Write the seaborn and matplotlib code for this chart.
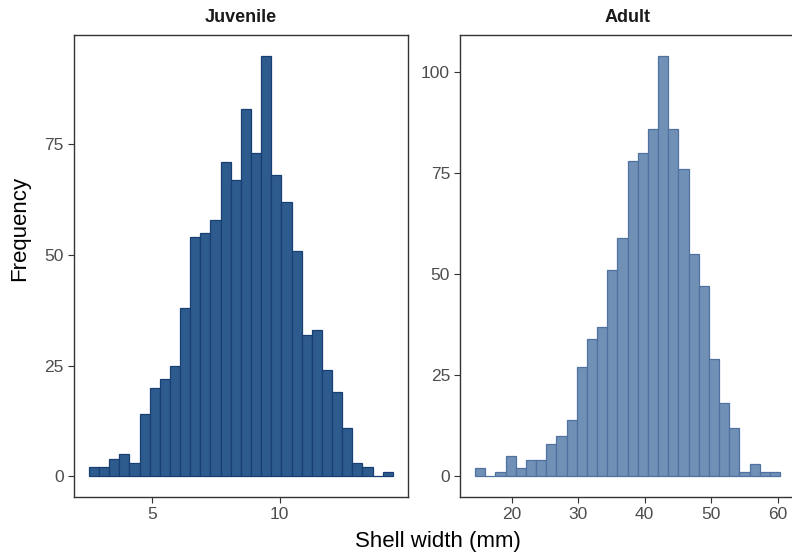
import pandas as pd
import matplotlib
matplotlib.use("Agg")
import matplotlib.pyplot as plt
import seaborn as sns

# bin ranges (mm) and counts, 30 bins per panel
juvenile_range = (2.52, 14.43)
juvenile_counts = [2, 2, 4, 5, 3, 14, 20, 22, 25, 38,
                   54, 55, 58, 71, 67, 83, 73, 95, 68, 62,
                   51, 32, 33, 24, 19, 11, 3, 2, 0, 1]
adult_range = (14.48, 60.35)
adult_counts = [2, 0, 1, 5, 2, 4, 4, 8, 10, 14,
                27, 34, 37, 51, 59, 78, 80, 86, 104, 86,
                76, 55, 47, 29, 18, 12, 1, 3, 1, 1]

juvenile_xticks = [5, 10]
juvenile_yticks = [0, 25, 50, 75]
adult_xticks = [20, 30, 40, 50, 60]
adult_yticks = [0, 25, 50, 75, 100]

sns.set_theme(style="white")
plt.rcParams['font.family'] = ['Liberation Sans', 'DejaVu Sans']


def make_frame(rng, counts):
    n = len(counts)
    w = (rng[1] - rng[0]) / n
    centers = [rng[0] + w * (i + 0.5) for i in range(n)]
    return pd.DataFrame({'width': centers, 'n': counts})


def draw_panel(ax, rng, counts, title, xticks, yticks, fill, edge):
    df = make_frame(rng, counts)
    sns.histplot(data=df, x='width', weights='n', bins=len(counts),
                 binrange=rng, ax=ax, color=fill, edgecolor=edge,
                 alpha=1, linewidth=0.9)
    span = rng[1] - rng[0]
    ax.set_xlim(rng[0] - 0.05 * span, rng[1] + 0.05 * span)
    top = max(counts)
    ax.set_ylim(-0.05 * top, top * 1.05)
    ax.set_xticks(xticks)
    ax.set_yticks(yticks)
    ax.set_xlabel('')
    ax.set_ylabel('')
    ax.set_title(title, fontsize=13, fontweight='bold', pad=9, color='#1a1a1a')
    ax.tick_params(axis='both', which='both', direction='out', length=4.5,
                   width=0.8, color='#333333', labelsize=12.5,
                   labelcolor='#4D4D4D', pad=2.5, bottom=True, left=True)
    for s in ax.spines.values():
        s.set_color('#333333')
        s.set_linewidth(1.0)
    ax.grid(False)


fig = plt.figure(figsize=(7.92, 5.56), dpi=100)
ax1 = fig.add_axes([73.7 / 792, 1 - 497.3 / 556, 334.3 / 792, 462.6 / 556])
ax2 = fig.add_axes([459.8 / 792, 1 - 497.3 / 556, 335.5 / 792, 462.6 / 556])

draw_panel(ax1, juvenile_range, juvenile_counts, 'Juvenile',
           juvenile_xticks, juvenile_yticks, '#2e5b8d', '#173f74')
draw_panel(ax2, adult_range, adult_counts, 'Adult',
           adult_xticks, adult_yticks, '#7190b6', '#4f72a1')

fig.text(438 / 792, 1 - 541 / 556, 'Shell width (mm)', ha='center', va='center',
         fontsize=16, color='black')
fig.text(20 / 792, 1 - 228 / 556, 'Frequency', ha='center', va='center',
         rotation=90, fontsize=16, color='black')

fig.savefig('out.png', dpi=100)
